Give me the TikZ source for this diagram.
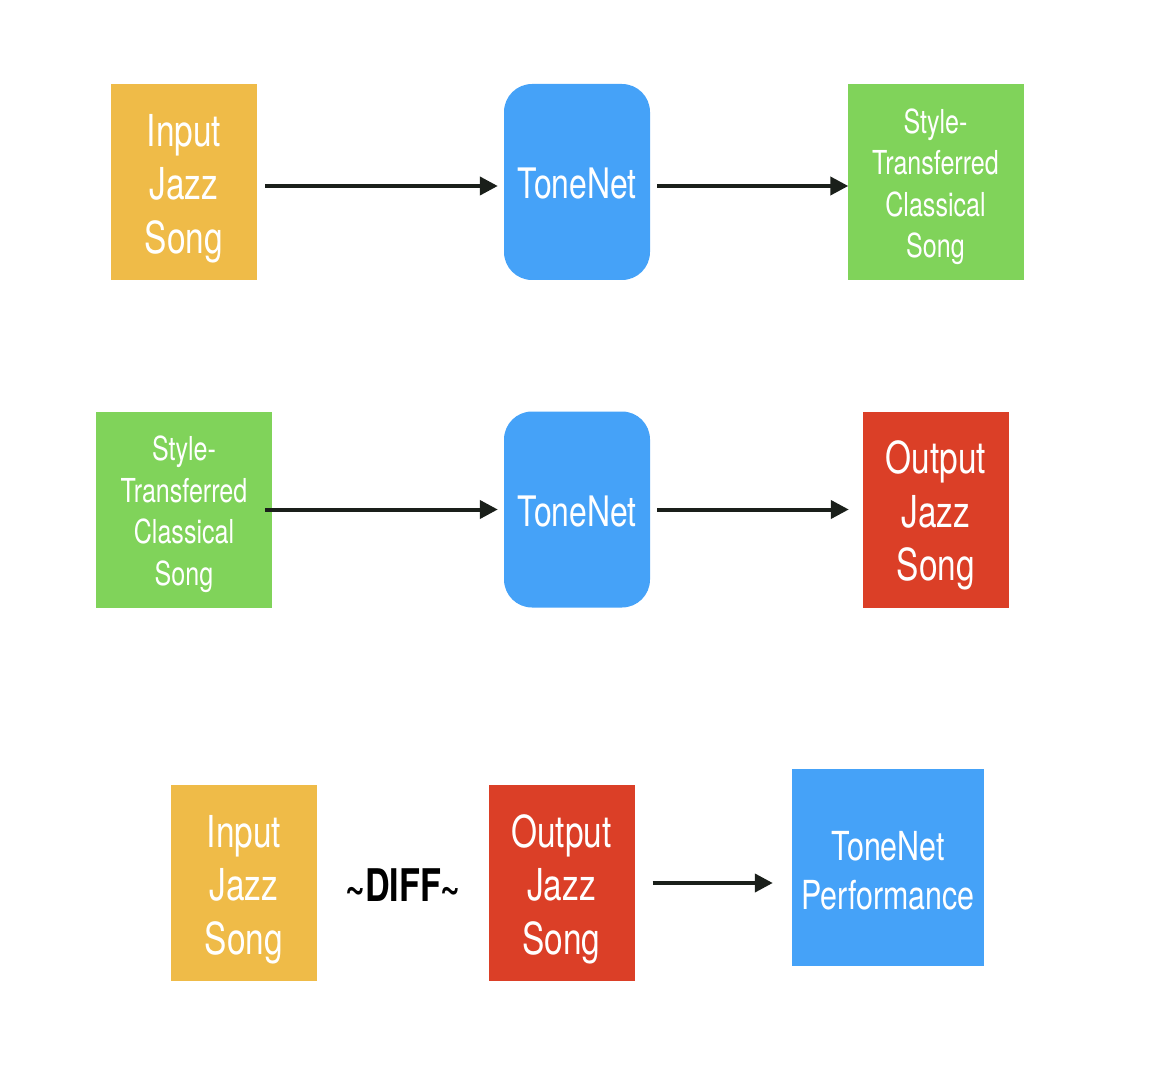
\documentclass[tikz,border=0pt]{standalone}
\usepackage{fontspec}
\setmainfont[FakeStretch=0.76]{TeX Gyre Heros}
\usetikzlibrary{arrows.meta}
\definecolor{cOrange}{HTML}{EFBB48}
\definecolor{cBlue}{HTML}{45A2F8}
\definecolor{cGreen}{HTML}{80D35A}
\definecolor{cRed}{HTML}{DB3F27}
\definecolor{cArrow}{HTML}{1A1F1A}
\newcommand{\mlines}[2]{\raisebox{#1}[\height][\depth]{\begin{tabular}{@{}c@{}}#2\end{tabular}}}
\tikzset{
  box/.style={rectangle, inner sep=0pt, align=center, text=white,
    minimum width=146pt, minimum height=196pt},
  bigtxt/.style={font=\fontsize{44}{53.5}\selectfont},
  midtxt/.style={font=\fontsize{33}{41.5}\selectfont},
  orangebox/.style={box, bigtxt, fill=cOrange},
  redbox/.style={box, bigtxt, fill=cRed},
  greenbox/.style={box, midtxt, fill=cGreen, minimum width=176pt},
  tonebox/.style={box, fill=cBlue, rounded corners=28pt, font=\fontsize{42}{50}\selectfont},
  perfbox/.style={box, fill=cBlue, minimum width=192pt, minimum height=197pt, font=\fontsize{40}{49}\selectfont},
  arr/.style={draw=cArrow, line width=4pt, -{Triangle[length=18pt,width=18pt]}}
}
\begin{document}
\begin{tikzpicture}[x=1pt,y=-1pt]
\useasboundingbox (0,0) rectangle (1176,1078);
% row 1
\node[orangebox] (in1) at (184,182) {\mlines{-7pt}{Input\\Jazz\\Song}};
\node[tonebox] (tn1) at (577,182) {\raisebox{-2pt}[\height][\depth]{ToneNet}};
\node[greenbox] (st1) at (935.5,182) {\mlines{-5pt}{Style-\\Transferred\\Classical\\Song}};
\draw[arr] ([xshift=8pt,yshift=-4pt]in1.east) -- ([xshift=-6pt,yshift=-4pt]tn1.west);
\draw[arr] ([xshift=7pt,yshift=-4pt]tn1.east) -- ([xshift=1pt,yshift=-4pt]st1.west);
% row 2
\node[greenbox] (st2) at (184,509.5) {\mlines{-5pt}{Style-\\Transferred\\Classical\\Song}};
\node[tonebox] (tn2) at (577,509.5) {\raisebox{-2pt}[\height][\depth]{ToneNet}};
\node[redbox] (out2) at (936,509.5) {\mlines{-7pt}{Output\\Jazz\\Song}};
\draw[arr] ([xshift=-7pt]st2.east) -- ([xshift=-6pt]tn2.west);
\draw[arr] ([xshift=7pt]tn2.east) -- ([xshift=-14pt]out2.west);
% row 3
\node[orangebox] (in3) at (244,883) {\mlines{-7pt}{Input\\Jazz\\Song}};
\node[font=\fontsize{45}{50}\selectfont\bfseries, text=black] (diff) at (403,885) {\textasciitilde DIFF\textasciitilde};
\node[redbox] (out3) at (561.5,883) {\mlines{-7pt}{Output\\Jazz\\Song}};
\node[perfbox] (perf) at (888,867.5) {\mlines{-8pt}{ToneNet\\Performance}};
\draw[arr] ([xshift=18pt]out3.east) -- ([xshift=-19pt]perf.west |- out3.east);
\end{tikzpicture}
\end{document}
